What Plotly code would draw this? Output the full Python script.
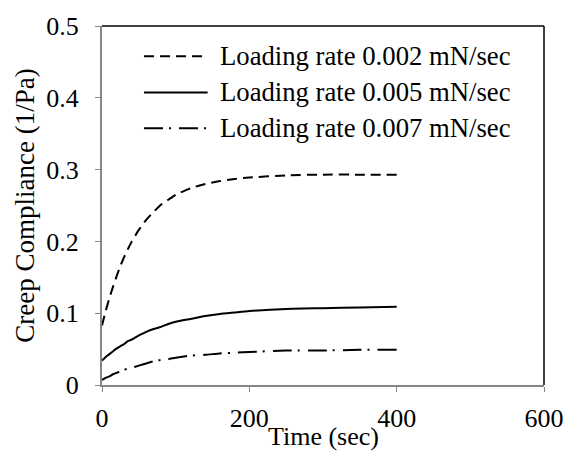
import plotly.graph_objects as go

# Creep compliance curves for three loading rates
time_sec = [0, 5, 10, 15, 20, 25, 30, 35, 40, 50, 60, 70, 80, 90, 100,
            120, 140, 160, 180, 200, 250, 300, 350, 400]
rate_002 = [0.083, 0.103, 0.121, 0.137, 0.152, 0.166, 0.178, 0.189, 0.199, 0.216,
            0.230, 0.241, 0.251, 0.258, 0.265, 0.274, 0.280, 0.284, 0.287, 0.289,
            0.292, 0.293, 0.293, 0.293]
rate_005 = [0.034, 0.039, 0.043, 0.047, 0.051, 0.054, 0.057, 0.061, 0.063, 0.069,
            0.074, 0.078, 0.081, 0.085, 0.088, 0.092, 0.096, 0.099, 0.101, 0.103,
            0.106, 0.107, 0.108, 0.109]
rate_007 = [0.007, 0.010, 0.012, 0.015, 0.017, 0.019, 0.021, 0.023, 0.024, 0.027,
            0.030, 0.033, 0.035, 0.036, 0.038, 0.041, 0.042, 0.044, 0.045, 0.046,
            0.048, 0.048, 0.049, 0.049]

series_names = ["Loading rate 0.002 mN/sec",
                "Loading rate 0.005 mN/sec",
                "Loading rate 0.007 mN/sec"]
x_ticks = [0, 200, 400, 600]
y_ticks = [0, 0.1, 0.2, 0.3, 0.4, 0.5]
y_tick_text = ["0", "0.1", "0.2", "0.3", "0.4", "0.5"]

FONT = "Liberation Serif, Times New Roman, serif"
FS = 26
AXIS_GRAY = "#868686"
dashes = ["10px,6px", "solid", "19px,6px,2px,8px"]

fig = go.Figure()
for name, ys, dash in zip(series_names, [rate_002, rate_005, rate_007], dashes):
    fig.add_trace(go.Scatter(
        x=time_sec, y=ys, mode="lines", name=name, showlegend=False,
        line=dict(color="black", width=2, dash=dash, shape="spline", smoothing=0.5),
    ))

# Hand-placed legend: line samples + labels
legend_y = [0.916, 0.815, 0.715]
for name, dash, ly in zip(series_names, dashes, legend_y):
    fig.add_shape(type="line", xref="paper", yref="paper",
                  x0=0.095, x1=0.239, y0=ly, y1=ly,
                  line=dict(color="black", width=2, dash=dash))
    fig.add_annotation(xref="paper", yref="paper", x=0.262, y=ly, text=name,
                       showarrow=False, xanchor="left", yanchor="middle",
                       font=dict(family=FONT, size=26.7, color="black"))

# Black frame on top and right sides
fig.add_shape(type="line", xref="paper", yref="paper", x0=0, x1=1, y0=1, y1=1,
              line=dict(color="black", width=1.5))
fig.add_shape(type="line", xref="paper", yref="paper", x0=1, x1=1, y0=0, y1=1,
              line=dict(color="black", width=1.5))

# x-axis title, tucked just under the tick labels
fig.add_annotation(xref="paper", yref="paper", x=0.5, y=-0.143, text="Time (sec)",
                   showarrow=False, xanchor="center", yanchor="middle",
                   font=dict(family=FONT, size=FS, color="black"))

fig.update_layout(
    width=576, height=457,
    margin=dict(l=102, r=31, t=17, b=72),
    paper_bgcolor="white", plot_bgcolor="white",
    font=dict(family=FONT, size=FS, color="black"),
    xaxis=dict(range=[0, 600], tickvals=x_ticks, ticks="outside", ticklen=5,
               tickcolor=AXIS_GRAY, showline=True, linecolor=AXIS_GRAY, linewidth=2,
               showgrid=False, zeroline=False, ticklabelstandoff=4,
               tickfont=dict(family=FONT, size=FS, color="black")),
    yaxis=dict(range=[0, 0.5], tickvals=y_ticks, ticktext=y_tick_text,
               ticks="outside", ticklen=5, ticklabelstandoff=11,
               tickcolor=AXIS_GRAY, showline=True, linecolor=AXIS_GRAY, linewidth=2,
               showgrid=False, zeroline=False,
               title=dict(text="Creep Compliance (1/Pa)", standoff=4,
                          font=dict(family=FONT, size=27, color="black")),
               tickfont=dict(family=FONT, size=FS, color="black")),
)

fig.write_html("out.html")
